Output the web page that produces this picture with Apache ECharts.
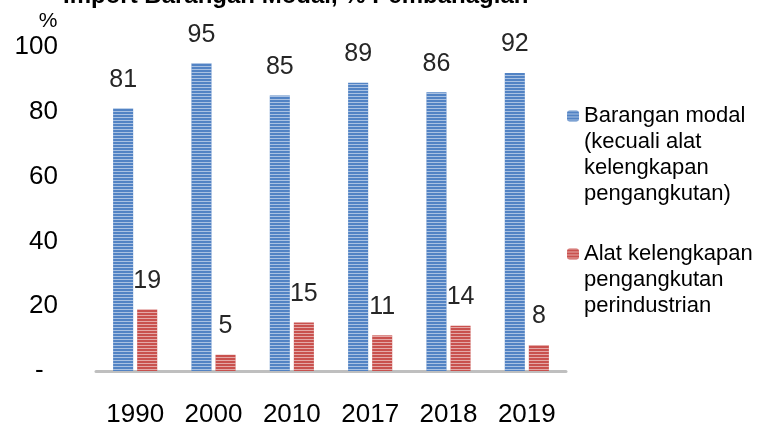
<!DOCTYPE html>
<html>
<head>
<meta charset="utf-8">
<script src="https://cdn.jsdelivr.net/npm/echarts@6/dist/echarts.min.js"></script>
<style>
  html, body { margin: 0; padding: 0; background: #fff; }
  #chart { width: 769px; height: 426px; }
</style>
</head>
<body>
<div id="chart"></div>
<script>
// data
var years = ['1990', '2000', '2010', '2017', '2018', '2019'];
var modal = [81, 95, 85, 89, 86, 92];
var alat = [19, 5, 15, 11, 14, 8];
var yTicks = [0, 20, 40, 60, 80, 100];

var nameModal = 'Barangan modal\n(kecuali alat\nkelengkapan\npengangkutan)';
var nameAlat = 'Alat kelengkapan\npengangkutan\nperindustrian';

var font = 'Liberation Sans, Arial, sans-serif';

//横条纹
function stripes(){
  return {
    symbol: 'rect',
    symbolSize: 1,
    dashArrayX: [1, 0],
    dashArrayY: [1, 2],
    rotation: 0,
    color: 'rgba(255,255,255,0.5)'
  };
}

var lineH = 26;
// 图标对齐第一行: 前面补空行
function legendFor(name, lines, iconY){
  var half = (2 * lines - 1) * lineH / 2;
  return {
    data: [name],
    orient: 'vertical',
    left: 567,
    top: iconY - half,
    padding: 0,
    itemWidth: 12,
    itemHeight: 11,
    itemGap: 0,
    selectedMode: false,
    formatter: function(n){
      return new Array(lines).join('\n') + n;
    },
    textStyle: {
      fontFamily: font,
      fontSize: 22,
      color: '#000',
      lineHeight: lineH
    }
  };
}

var myChart = echarts.init(document.getElementById('chart'));
var option = {
  animation: false,
  backgroundColor: '#fff',
  title: {
    text: 'Import Barangan Modal, % Pembahagian',
    left: 63,
    top: -16,
    padding: 0,
    textStyle: { fontFamily: font, fontSize: 24, fontWeight: 'bold', color: '#000' }
  },
  graphic: [{
    type: 'text',
    x: 48,
    y: 21,
    style: { text: '%', fontFamily: font, fontSize: 21, fill: '#000', align: 'center', verticalAlign: 'middle' }
  }],
  legend: [legendFor(nameModal, 4, 116), legendFor(nameAlat, 3, 254)],
  grid: { left: 96, right: 203, top: 47, bottom: 55, containLabel: false, outerBoundsMode: 'none' },
  xAxis: {
    type: 'category',
    data: years,
    axisLine: { lineStyle: { color: '#bfbfbf', width: 3 } },
    axisTick: { show: false },
    axisLabel: { fontFamily: font, fontSize: 26, color: '#000', margin: 31 }
  },
  yAxis: {
    type: 'value',
    min: yTicks[0],
    max: yTicks[yTicks.length - 1],
    interval: 20,
    axisLine: { show: false },
    axisTick: { show: false },
    splitLine: { show: false },
    axisLabel: {
      fontFamily: font, fontSize: 26, color: '#000', margin: 38,
      formatter: function(v){ return v === 0 ? '-  ' : String(v); }
    }
  },
  series: [{
    name: nameModal,
    type: 'bar',
    data: modal,
    barWidth: '25.6%',
    barGap: '20%',
    itemStyle: { color: '#5283c4', decal: stripes() },
    label: { show: true, position: 'top', distance: 16, fontFamily: font, fontSize: 25, color: '#262626' }
  }, {
    name: nameAlat,
    type: 'bar',
    data: alat,
    barWidth: '25.6%',
    itemStyle: { color: '#c9514e', decal: stripes() },
    label: { show: true, position: 'top', distance: 16, fontFamily: font, fontSize: 25, color: '#262626' }
  }]
};
myChart.setOption(option);
</script>
</body>
</html>
